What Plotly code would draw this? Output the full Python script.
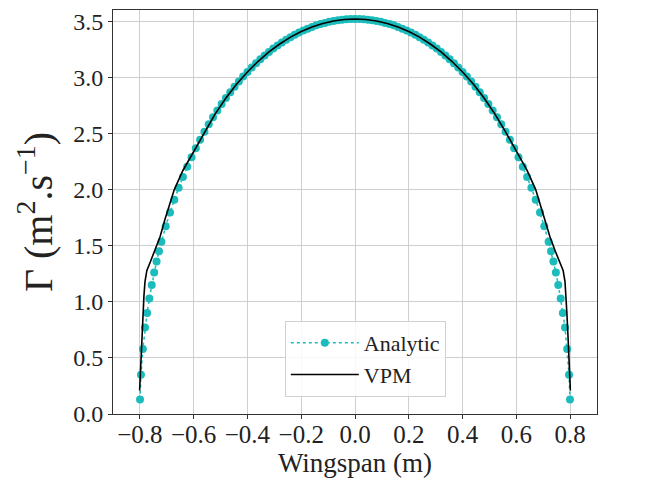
import plotly.graph_objects as go

# analytic (elliptic) circulation
analytic_x = [
    -0.7995, -0.796, -0.789, -0.781, -0.773, -0.765, -0.756, -0.747, -0.738, -0.729,
    -0.72, -0.704, -0.688, -0.672, -0.656, -0.64, -0.624, -0.608, -0.592, -0.576,
    -0.56, -0.544, -0.528, -0.512, -0.496, -0.48, -0.464, -0.448, -0.432, -0.416,
    -0.4, -0.384, -0.368, -0.352, -0.336, -0.32, -0.304, -0.288, -0.272, -0.256,
    -0.24, -0.224, -0.208, -0.192, -0.176, -0.16, -0.144, -0.128, -0.112, -0.096,
    -0.08, -0.064, -0.048, -0.032, -0.016, 0.0,
    0.016, 0.032, 0.048, 0.064, 0.08, 0.096, 0.112, 0.128, 0.144, 0.16,
    0.176, 0.192, 0.208, 0.224, 0.24, 0.256, 0.272, 0.288, 0.304, 0.32,
    0.336, 0.352, 0.368, 0.384, 0.4, 0.416, 0.432, 0.448, 0.464, 0.48,
    0.496, 0.512, 0.528, 0.544, 0.56, 0.576, 0.592, 0.608, 0.624, 0.64,
    0.656, 0.672, 0.688, 0.704, 0.72, 0.729, 0.738, 0.747, 0.756, 0.765,
    0.773, 0.781, 0.789, 0.796, 0.7995,
]
analytic_gamma = [
    0.13, 0.35, 0.58, 0.77, 0.90, 1.03, 1.15, 1.26, 1.36, 1.45,
    1.534, 1.672, 1.796, 1.910, 2.015, 2.112, 2.203, 2.288, 2.368, 2.443,
    2.514, 2.581, 2.645, 2.705, 2.762, 2.816, 2.868, 2.916, 2.963, 3.007,
    3.048, 3.088, 3.126, 3.161, 3.195, 3.226, 3.256, 3.284, 3.310, 3.335,
    3.358, 3.379, 3.399, 3.417, 3.434, 3.449, 3.463, 3.475, 3.485, 3.495,
    3.502, 3.509, 3.514, 3.517, 3.519, 3.52,
    3.519, 3.517, 3.514, 3.509, 3.502, 3.495, 3.485, 3.475, 3.463, 3.449,
    3.434, 3.417, 3.399, 3.379, 3.358, 3.335, 3.310, 3.284, 3.256, 3.226,
    3.195, 3.161, 3.126, 3.088, 3.048, 3.007, 2.963, 2.916, 2.868, 2.816,
    2.762, 2.705, 2.645, 2.581, 2.514, 2.443, 2.368, 2.288, 2.203, 2.112,
    2.015, 1.910, 1.796, 1.672, 1.534, 1.45, 1.36, 1.26, 1.15, 1.03,
    0.90, 0.77, 0.58, 0.35, 0.13,
]

# VPM result
vpm_x = [
    -0.801, -0.797, -0.792, -0.788, -0.785, -0.781, -0.774, -0.762, -0.745, -0.725,
    -0.706, -0.688, -0.672, -0.64, -0.6, -0.56, -0.52, -0.48, -0.44, -0.4,
    -0.36, -0.32, -0.28, -0.24, -0.2, -0.16, -0.12, -0.08, -0.04, 0.0,
    0.04, 0.08, 0.12, 0.16, 0.2, 0.24, 0.28, 0.32, 0.36, 0.4,
    0.44, 0.48, 0.52, 0.56, 0.6, 0.64, 0.672, 0.688, 0.706, 0.725,
    0.745, 0.762, 0.774, 0.781, 0.785, 0.788, 0.792, 0.797, 0.801,
]
vpm_gamma = [
    0.21, 0.45, 0.70, 0.90, 1.05, 1.18, 1.28, 1.35, 1.45, 1.58,
    1.74, 1.87, 2.0, 2.17, 2.34, 2.514, 2.675, 2.816, 2.94, 3.048,
    3.143, 3.226, 3.297, 3.358, 3.408, 3.449, 3.48, 3.502, 3.516, 3.52,
    3.516, 3.502, 3.48, 3.449, 3.408, 3.358, 3.297, 3.226, 3.143, 3.048,
    2.94, 2.816, 2.675, 2.514, 2.34, 2.17, 2.0, 1.87, 1.74, 1.58,
    1.45, 1.35, 1.28, 1.18, 1.05, 0.90, 0.70, 0.45, 0.21,
]

x_ticks = [-0.8, -0.6, -0.4, -0.2, 0.0, 0.2, 0.4, 0.6, 0.8]
y_ticks = [0.0, 0.5, 1.0, 1.5, 2.0, 2.5, 3.0, 3.5]

font = "Liberation Serif, Times New Roman, serif"

fig = go.Figure()

fig.add_trace(
    go.Scatter(
        x=analytic_x,
        y=analytic_gamma,
        mode="lines+markers",
        name="Analytic",
        line=dict(color="#1cbcbc", width=1.5, dash="dot"),
        marker=dict(color="#1cbcbc", size=8),
    )
)

fig.add_trace(
    go.Scatter(
        x=vpm_x,
        y=vpm_gamma,
        mode="lines",
        name="VPM",
        line=dict(color="black", width=1.6),
    )
)

fig.update_xaxes(
    range=[-0.9, 0.9],
    tickvals=x_ticks,
    tickformat=".1f",
    ticks="outside", ticklen=4, tickcolor="#333",
    ticklabelstandoff=-6,
    showgrid=True, gridcolor="#cfcfcf", gridwidth=1,
    showline=True, linecolor="#333", linewidth=1, mirror=True,
    zeroline=False,
    tickfont=dict(family=font, size=25, color="#222"),
    title=dict(text="Wingspan (m)", font=dict(family=font, size=27, color="#222"), standoff=0),
)

fig.update_yaxes(
    range=[0, 3.6],
    tickvals=y_ticks,
    tickformat=".1f",
    ticks="outside", ticklen=4, tickcolor="#333",
    showgrid=True, gridcolor="#cfcfcf", gridwidth=1,
    showline=True, linecolor="#333", linewidth=1, mirror=True,
    zeroline=False,
    tickfont=dict(family=font, size=24, color="#222"),
    title=dict(text="Γ (m<sup>2</sup>.s<sup>−1</sup>)", font=dict(family=font, size=40, color="#222"), standoff=8),
)

fig.update_layout(
    width=647,
    height=481,
    margin=dict(l=105, r=58, t=2, b=75),
    paper_bgcolor="white",
    plot_bgcolor="white",
    legend=dict(
        x=0.355, y=0.042, xanchor="left", yanchor="bottom",
        bgcolor="rgba(255,255,255,0.85)",
        bordercolor="#d0d0d0", borderwidth=1,
        itemwidth=68,
        font=dict(family=font, size=22, color="#222"),
    ),
)

fig.write_html("out.html")
